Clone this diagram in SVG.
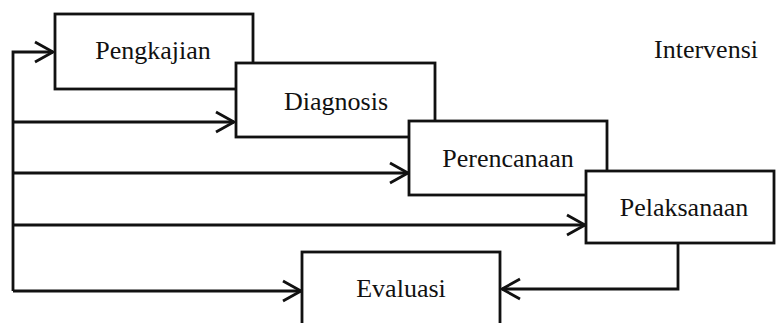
<svg xmlns="http://www.w3.org/2000/svg" width="776" height="323" viewBox="0 0 776 323">
<style>
.box{fill:#fff;stroke:#111;stroke-width:2.8}
.lbl{font-family:"Liberation Serif","Times New Roman",serif;font-size:26px;fill:#111;text-anchor:middle}
.ln{fill:none;stroke:#111;stroke-width:2.8;stroke-linejoin:miter}
</style>
<defs>
<marker id="ah" markerUnits="userSpaceOnUse" markerWidth="24" markerHeight="26" refX="20" refY="12" orient="auto" viewBox="0 0 24 26">
<path d="M2,2 L20,12 L2,22" fill="none" stroke="#111" stroke-width="2.8"/>
</marker>
</defs>
<rect width="776" height="323" fill="#fff"/>
<g id="connectors">
<path class="ln" d="M13,291 L13,52 L53,52" marker-end="url(#ah)"/>
<path class="ln" d="M13,122 L234,122" marker-end="url(#ah)"/>
<path class="ln" d="M13,173 L408,173" marker-end="url(#ah)"/>
<path class="ln" d="M13,225 L585,225" marker-end="url(#ah)"/>
<path class="ln" d="M13,291 L301,291" marker-end="url(#ah)"/>
<path class="ln" d="M678,243 L678,289 L502,289" marker-end="url(#ah)"/>
</g>
<g id="pengkajian">
<rect class="box" x="55" y="14" width="198" height="75"/>
<text class="lbl" x="153" y="59">Pengkajian</text>
</g>
<g id="diagnosis">
<rect class="box" x="236" y="63" width="199" height="74"/>
<text class="lbl" x="336" y="110">Diagnosis</text>
</g>
<g id="perencanaan">
<rect class="box" x="409" y="121" width="198" height="74"/>
<text class="lbl" x="508" y="167">Perencanaan</text>
</g>
<g id="pelaksanaan">
<rect class="box" x="586" y="171" width="188" height="72"/>
<text class="lbl" x="684" y="216">Pelaksanaan</text>
</g>
<g id="evaluasi">
<rect class="box" x="302" y="252" width="198" height="80"/>
<text class="lbl" x="401" y="297">Evaluasi</text>
</g>
<g id="intervensi">
<text class="lbl" x="706" y="58">Intervensi</text>
</g>
</svg>
